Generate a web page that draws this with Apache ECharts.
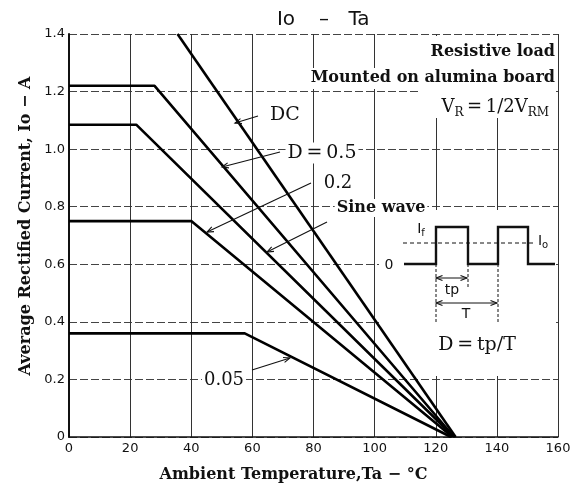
<!DOCTYPE html>
<html>
<head>
<meta charset="utf-8">
<script src="https://cdn.jsdelivr.net/npm/echarts@6/dist/echarts.min.js"></script>
<style>html,body{margin:0;padding:0;background:#fff}#c{width:579px;height:493px}</style>
</head>
<body>
<div id="c"></div>
<script>
// ---- data (Ta in °C, Io in A) ----
const xTicks = [0, 20, 40, 60, 80, 100, 120, 140, 160];
const yTicks = [0, 0.2, 0.4, 0.6, 0.8, 1.0, 1.2, 1.4];
const seriesNames = ['DC', 'D=0.5', 'D=0.2', 'Sine wave', 'D=0.05'];
const dcData   = [[35.5, 1.4], [126.5, 0]];
const d05Data  = [[0, 1.22], [28, 1.22], [126, 0]];
const d02Data  = [[0, 1.085], [22, 1.085], [126, 0]];
const sineData = [[0, 0.75], [40, 0.75], [125.5, 0]];
const d005Data = [[0, 0.36], [57.5, 0.36], [125, 0]];

const chart = echarts.init(document.getElementById('c'), null, {renderer: 'canvas'});
const SERIF = '"DejaVu Serif", serif';
const SANS = '"DejaVu Sans", sans-serif';

function mkSeries(name, data) {
  return {
    name: name, type: 'line', data: data, showSymbol: false, clip: true, z: 2,
    lineStyle: {color: '#000', width: 2.6}, silent: true
  };
}

// ---- annotation helpers ----
function txt(x, y, text, font, extra) {
  return Object.assign({
    type: 'text', x: x, y: y, z: 5,
    style: Object.assign({text: text, font: font, fill: '#111', align: 'center', verticalAlign: 'middle'}, (extra || {}))
  });
}
function pl(points, width, dash) {
  return {type: 'polyline', z: 4, shape: {points: points},
    style: {stroke: '#111', lineWidth: width || 1, lineDash: dash || null, fill: null}};
}
function head(tx, ty, fx, fy) {
  const len = Math.hypot(fx - tx, fy - ty);
  const ux = (fx - tx) / len, uy = (fy - ty) / len;
  const L = 7, a = 0.38;
  const p1 = [tx + L * (ux * Math.cos(a) - uy * Math.sin(a)), ty + L * (ux * Math.sin(a) + uy * Math.cos(a))];
  const p2 = [tx + L * (ux * Math.cos(-a) - uy * Math.sin(-a)), ty + L * (ux * Math.sin(-a) + uy * Math.cos(-a))];
  return pl([p1, [tx, ty], p2], 1.1);
}
function arrow(x1, y1, x2, y2) {
  return [pl([[x1, y1], [x2, y2]], 1.1), head(x2, y2, x1, y1)];
}
function dimArrow(x1, x2, y) {
  return [pl([[x1, y], [x2, y]], 1), head(x1, y, x2, y), head(x2, y, x1, y)];
}

const bg = {backgroundColor: '#fff', padding: [1, 2]};
const g = [];
// white masks
g.push({type: 'rect', z: 1, shape: {x: 420, y: 36, width: 136, height: 82}, style: {fill: '#fff'}});
g.push({type: 'rect', z: 1, shape: {x: 294, y: 68, width: 130, height: 21}, style: {fill: '#fff'}});
g.push({type: 'rect', z: 1, shape: {x: 379, y: 210, width: 177, height: 166}, style: {fill: '#fff'}});

// title
g.push(txt(286, 20, 'Io', '20px ' + SANS));
g.push(txt(324, 20, '–', '20px ' + SANS));
g.push(txt(359, 20, 'Ta', '20px ' + SANS));

// conditions
g.push(txt(555, 52, 'Resistive load', 'bold 16px ' + SERIF, {align: 'right'}));
g.push(txt(555, 78, 'Mounted on alumina board', 'bold 16px ' + SERIF, {align: 'right'}));
g.push(txt(549, 107, '{m|V}{s|R}{m|\u2009=\u20091/2V}{s|RM}', '18px ' + SERIF, {
  align: 'right',
  rich: {
    m: {font: '18px ' + SERIF, fill: '#111', lineHeight: 24, verticalAlign: 'middle'},
    s: {font: '12px ' + SERIF, fill: '#111', lineHeight: 24, verticalAlign: 'bottom', padding: [0, 0, 0, 0]}
  }
}));

// curve labels
g.push(txt(285, 115, 'DC', '19px ' + SERIF, bg));
g.push(txt(322, 153, 'D\u2009=\u20090.5', '19px ' + SERIF, bg));
g.push(txt(338, 183, '0.2', '18px ' + SERIF, bg));
g.push(txt(381, 208, 'Sine wave', 'bold 16px ' + SERIF, bg));
g.push(txt(224, 380, '0.05', '18px ' + SERIF, bg));
g.push(...arrow(258, 116, 235, 123));
g.push(...arrow(280, 152, 222, 167));
g.push(...arrow(311, 183, 207, 232));
g.push(...arrow(327, 222, 267, 252));
g.push(...arrow(252, 370, 290, 358));

// waveform inset
g.push(pl([[404, 264], [436, 264], [436, 227], [468, 227], [468, 264], [498, 264], [498, 227], [528, 227], [528, 264], [555, 264]], 2.4));
g.push(pl([[403, 243], [534, 243]], 1, [4, 3]));
g.push(pl([[436, 264], [436, 322]], 1, [3, 2]));
g.push(pl([[468, 264], [468, 288]], 1, [3, 2]));
g.push(pl([[498, 264], [498, 322]], 1, [3, 2]));
g.push(...dimArrow(436, 467, 278));
g.push(...dimArrow(436, 497, 303));
g.push(txt(389, 265, '0', '14px ' + SANS));
g.push(txt(421, 229, '{a|I}{b|f}', '14px ' + SANS, {
  rich: {a: {font: '14px ' + SANS, fill: '#111', lineHeight: 18}, b: {font: '10px ' + SANS, fill: '#111', lineHeight: 18, verticalAlign: 'bottom'}}
}));
g.push(txt(543, 241, '{a|I}{b|o}', '14px ' + SANS, {
  rich: {a: {font: '14px ' + SANS, fill: '#111', lineHeight: 18}, b: {font: '10px ' + SANS, fill: '#111', lineHeight: 18, verticalAlign: 'bottom'}}
}));
g.push(txt(452, 290, 'tp', '14px ' + SANS));
g.push(txt(466, 314, 'T', '14px ' + SANS));
g.push(txt(477, 345, 'D\u2009=\u2009tp/T', '19px ' + SERIF));

chart.setOption({
  animation: false,
  backgroundColor: '#fff',
  grid: {left: 69, right: 21, top: 34, bottom: 56, containLabel: false},
  xAxis: {
    type: 'value', min: xTicks[0], max: xTicks[xTicks.length - 1], interval: 20,
    name: 'Ambient Temperature,Ta − °C', nameLocation: 'middle', nameGap: 30,
    nameTextStyle: {font: 'bold 16px ' + SERIF, fontFamily: 'DejaVu Serif', fontWeight: 'bold', fontSize: 16, color: '#111', padding: [0, 40, 0, 0]},
    axisLine: {show: true, onZero: false, lineStyle: {color: '#111', width: 1.5}},
    axisTick: {show: false},
    axisLabel: {fontFamily: 'DejaVu Sans', fontSize: 13, color: '#111', margin: 5},
    splitLine: {show: true, lineStyle: {color: '#333', width: 1, type: 'solid'}}
  },
  yAxis: {
    type: 'value', min: yTicks[0], max: yTicks[yTicks.length - 1], interval: 0.2,
    name: 'Average Rectified Current, Io − A', nameLocation: 'middle', nameGap: 34,
    nameTextStyle: {fontFamily: 'DejaVu Serif', fontWeight: 'bold', fontSize: 16, color: '#111', padding: [0, 0, 0, 19]},
    axisLine: {show: true, lineStyle: {color: '#111', width: 2}},
    axisTick: {show: false},
    axisLabel: {fontFamily: 'DejaVu Sans', fontSize: 13, color: '#111', margin: 4,
      formatter: v => (v === 0 ? '0' : v.toFixed(1))},
    splitLine: {show: true, lineStyle: {color: '#444', width: 1, type: [8, 3]}}
  },
  series: [
    mkSeries(seriesNames[0], dcData),
    mkSeries(seriesNames[1], d05Data),
    mkSeries(seriesNames[2], d02Data),
    mkSeries(seriesNames[3], sineData),
    mkSeries(seriesNames[4], d005Data)
  ],
  graphic: {elements: g}
});
</script>
</body>
</html>
